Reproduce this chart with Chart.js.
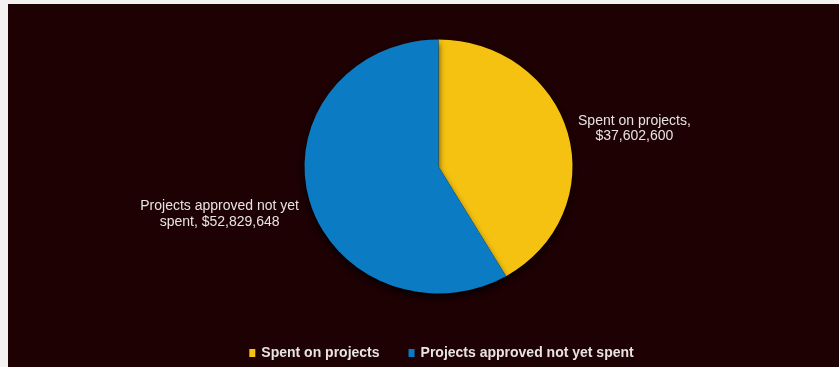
<!DOCTYPE html>
<html>
<head>
<meta charset="utf-8">
<script src="https://cdn.jsdelivr.net/npm/chart.js@4.4.1/dist/chart.umd.min.js"></script>
<style>
  html, body { margin: 0; padding: 0; background: #f4f1f1; overflow: hidden; }
  #wrap { position: absolute; left: 8px; top: 4px; width: 831px; height: 363px; background: #1d0103; }
</style>
</head>
<body>
<div id="wrap"><canvas id="chart-pie" width="831" height="363"></canvas></div>
<script>
const categories = ['Spent on projects', 'Projects approved not yet spent'];
const amounts = [37602600, 52829648];
const pointLabels = [['Spent on projects,', '$37,602,600'], ['Projects approved not yet', 'spent, $52,829,648']];
const sliceColors = ['#F5C211', '#0B7BC4'];

const TEXT = '#e8e3e3';
const SX = 1.055; // the picture is a bit wider than tall

// stretch the pie a little and give it a soft drop shadow
const stretchPlugin = {
  id: 'stretch',
  beforeDatasetsDraw(chart) {
    const arc = chart.getDatasetMeta(0).data[0];
    const c = chart.ctx;
    c.save();
    c.translate(arc.x, arc.y);
    c.scale(SX, 1);
    c.translate(-arc.x, -arc.y);
    c.shadowColor = 'rgba(0,0,0,0.75)';
    c.shadowBlur = 6;
    c.shadowOffsetY = 4;
  },
  afterDatasetsDraw(chart) {
    chart.ctx.restore();
  }
};

const outsideLabels = {
  id: 'outsideLabels',
  afterDatasetsDraw(chart) {
    const c = chart.ctx;
    c.save();
    c.font = '14px "Liberation Sans", Arial, sans-serif';
    c.fillStyle = TEXT;
    c.textAlign = 'center';
    c.textBaseline = 'middle';
    chart.getDatasetMeta(0).data.forEach((arc, i) => {
      const mid = (arc.startAngle + arc.endAngle) / 2;
      const cos = Math.cos(mid), sin = Math.sin(mid);
      const d = arc.outerRadius + 10;
      const px = arc.x + d * SX * cos;
      const py = arc.y + d * sin + (sin > 0 ? 12 : -2);
      const lines = pointLabels[i];
      const w = Math.max(...lines.map(l => c.measureText(l).width));
      const cx = cos >= 0 ? px + w / 2 : px - w / 2;
      const lh = 15.5;
      lines.forEach((l, k) => {
        c.fillText(l, cx, py + (k - (lines.length - 1) / 2) * lh);
      });
    });
    c.restore();
  }
};

const bottomLegend = {
  id: 'bottomLegend',
  afterDraw(chart) {
    const c = chart.ctx;
    c.save();
    c.font = 'bold 14px "Liberation Sans", Arial, sans-serif';
    c.textBaseline = 'alphabetic';
    const box = 6, gap = 6, between = 29;
    const widths = categories.map(t => c.measureText(t).width);
    const total = widths.reduce((a, w) => a + box + gap + w, 0) + between * (categories.length - 1);
    let x = 433.5 - total / 2;
    const base = 353;
    categories.forEach((t, i) => {
      c.fillStyle = sliceColors[i];
      c.fillRect(x, base - 8, box, 8);
      x += box + gap;
      c.fillStyle = TEXT;
      c.fillText(t, x, base);
      x += widths[i] + between;
    });
    c.restore();
  }
};

new Chart(document.getElementById('chart-pie'), {
  type: 'pie',
  data: {
    labels: categories,
    datasets: [{
      data: amounts,
      backgroundColor: sliceColors,
      borderWidth: 0,
      radius: 127
    }]
  },
  options: {
    responsive: false,
    animation: false,
    layout: { padding: { left: 30, right: 0, top: 0, bottom: 38 } },
    plugins: {
      legend: { display: false },
      tooltip: { enabled: false }
    }
  },
  plugins: [stretchPlugin, outsideLabels, bottomLegend]
});
</script>
</body>
</html>
